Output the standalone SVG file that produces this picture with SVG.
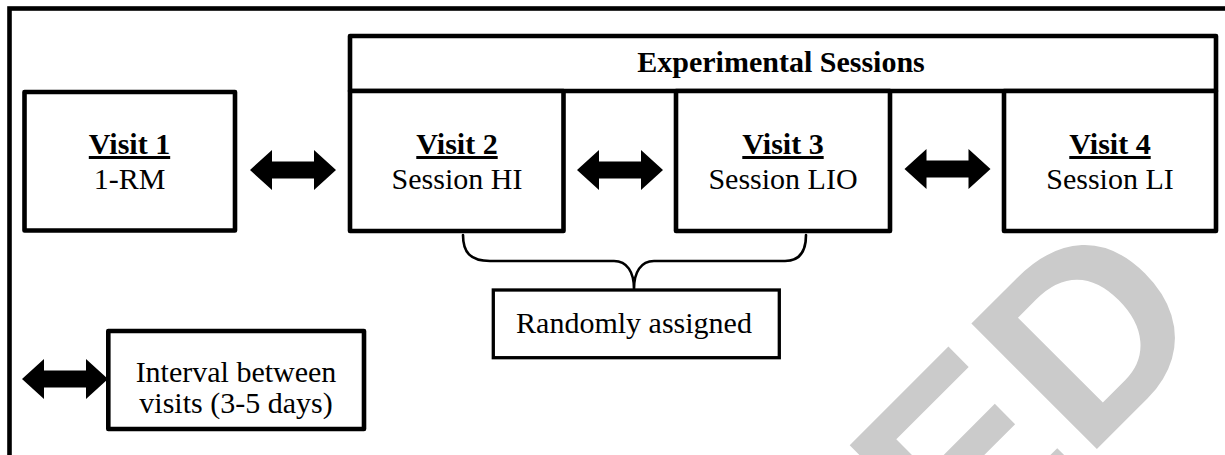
<svg xmlns="http://www.w3.org/2000/svg" width="1225" height="455" viewBox="0 0 1225 455">
  <style>
    .box { fill: #ffffff; stroke: #000000; stroke-width: 4.6; stroke-linejoin: round; }
    .thin { fill: #ffffff; stroke: #000000; stroke-width: 3.3; }
    .t { font-family: "Liberation Serif", "Times New Roman", serif; font-size: 30px; fill: #000000; text-anchor: middle; }
    .b { font-weight: bold; }
    .u { font-weight: bold; text-decoration: underline; }
    .wm { font-family: "Liberation Sans", Arial, sans-serif; font-weight: bold; font-size: 258px; fill: #cbcbcb; }
    .arrow { fill: #000000; }
    .brace { fill: none; stroke: #000000; stroke-width: 2.6; stroke-linecap: round; }
  </style>
  <defs>
    <path id="dblarrow" d="M0,0 L22,-20 L22,-8.5 L64,-8.5 L64,-20 L86,0 L64,20 L64,8.5 L22,8.5 L22,20 Z"/>
  </defs>
  <rect width="1225" height="455" fill="#ffffff"/>
  <g id="watermark">
    <text class="wm" transform="translate(963,583) rotate(-45)">ED</text>
  </g>
  <g id="frame">
    <rect x="9.5" y="8.5" width="1240" height="470" fill="none" stroke="#000000" stroke-width="4.6"/>
  </g>
  <g id="connectors">
    <use href="#dblarrow" class="arrow" transform="translate(250,170)"/>
    <use href="#dblarrow" class="arrow" transform="translate(577,170)"/>
    <use href="#dblarrow" class="arrow" transform="translate(904.5,169)"/>
    <path class="brace" d="M463,235 C463,252 470,261 490,261 L614,261 C627,261 634,272 634,289 C634,272 641,261 654,261 L785,261 C799,261 806,252 806,235"/>
  </g>
  <g id="visit1">
    <rect class="box" x="24.5" y="92" width="210.5" height="138.5"/>
    <text class="t u" x="129.5" y="154">Visit 1</text>
    <text class="t" x="129.5" y="189">1-RM</text>
  </g>
  <g id="experimental-sessions">
    <rect class="box" x="350" y="36" width="866" height="55"/>
    <text class="t b" x="781" y="72">Experimental Sessions</text>
  </g>
  <g id="visit2">
    <rect class="box" x="350" y="91" width="213.5" height="140"/>
    <text class="t u" x="457" y="154">Visit 2</text>
    <text class="t" x="457" y="189">Session HI</text>
  </g>
  <g id="visit3">
    <rect class="box" x="676" y="91" width="214" height="140"/>
    <text class="t u" x="783" y="154">Visit 3</text>
    <text class="t" x="783" y="189">Session LIO</text>
  </g>
  <g id="visit4">
    <rect class="box" x="1004" y="91" width="212" height="140"/>
    <text class="t u" x="1110" y="154">Visit 4</text>
    <text class="t" x="1110" y="189">Session LI</text>
  </g>
  <g id="randomly-assigned">
    <rect class="thin" x="493.3" y="290" width="286" height="67.7"/>
    <text class="t" x="634" y="333">Randomly assigned</text>
  </g>
  <g id="legend">
    <use href="#dblarrow" class="arrow" transform="translate(22,379)"/>
    <rect class="box" x="108.3" y="331" width="255.7" height="98"/>
    <text class="t" x="236" y="382">Interval between</text>
    <text class="t" x="236" y="413">visits (3-5 days)</text>
  </g>
</svg>
